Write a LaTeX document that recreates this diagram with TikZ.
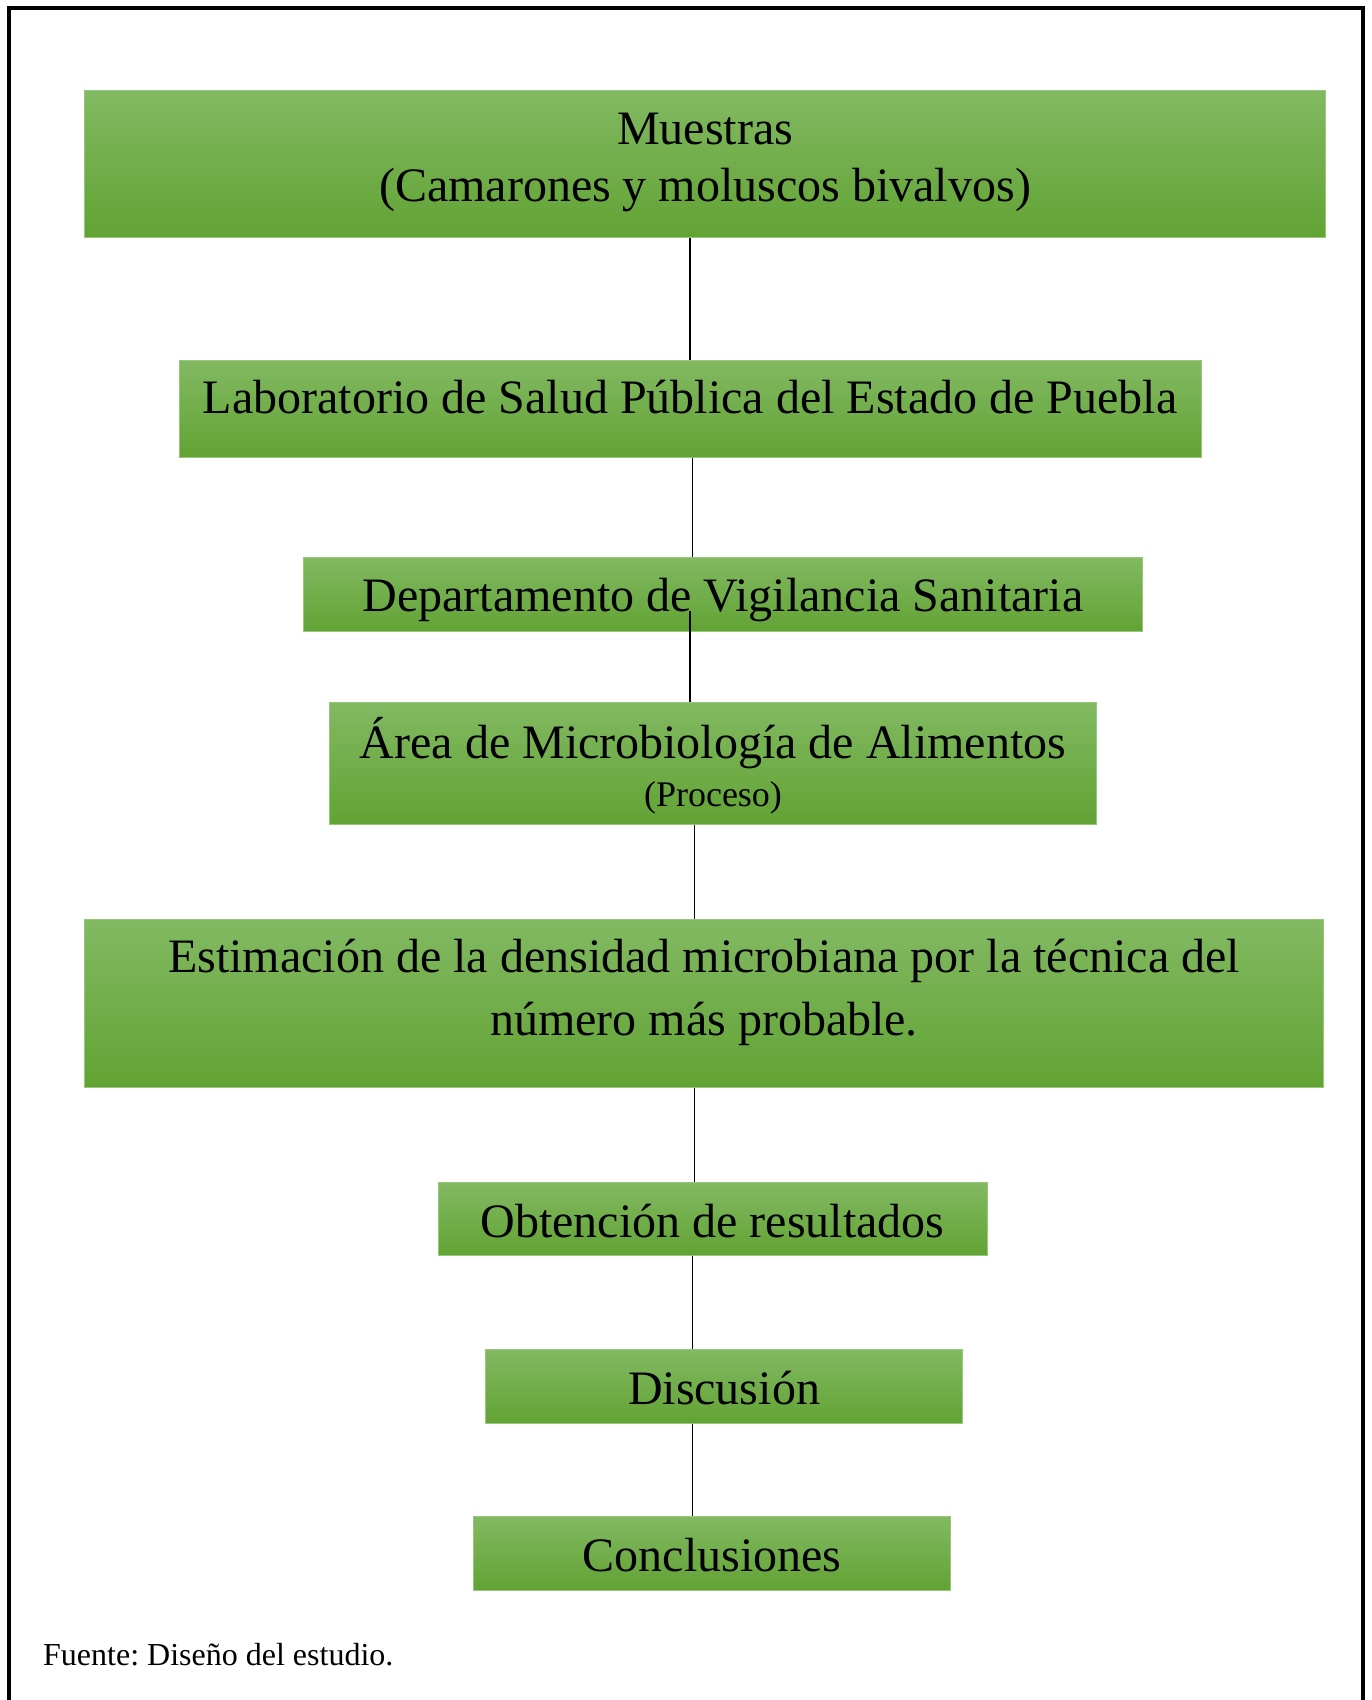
\documentclass[tikz,border=0pt]{standalone}
\usepackage{fontspec}
\setmainfont{Liberation Serif}
\usepackage{tikz}
\usetikzlibrary{positioning}
\definecolor{boxtop}{RGB}{130,185,98}
\definecolor{boxbot}{RGB}{98,163,52}
\definecolor{boxedge}{RGB}{150,200,122}
\tikzstyle{stage} = [rectangle, draw=boxedge, line width=1pt, top color=boxtop, bottom color=boxbot, inner sep=0pt, font=\fontsize{48}{55}\selectfont]
\tikzstyle{link} = [line width=1.6pt, black]
\frenchspacing

\begin{document}
\begin{tikzpicture}[x=1pt,y=-1pt]
\useasboundingbox (0,0) rectangle (1371,1700);

%frame
\draw[line width=4pt] (9,1705) -- (9,8) -- (1363,8) -- (1363,1705);

%Muestras
\node[stage, minimum width=1241pt, minimum height=147pt, text height=75pt, text depth=0pt,
	font=\fontsize{48}{56.7}\selectfont] (muestras) at (705,163.5)
	{\begin{tabular}[b]{@{}c@{}}Muestras\\(Camarones y moluscos bivalvos)\end{tabular}};

%Laboratorio
\node[stage, minimum width=1022pt, minimum height=97pt, text height=40.4pt, text depth=29.6pt] (lab) at (690,408.5)
	{Laboratorio de Salud Pública del Estado de Puebla};

%Departamento
\node[stage, minimum width=839pt, minimum height=74pt, text height=52.5pt, text depth=17.5pt] (depto) at (723,594)
	{Departamento de Vigilancia Sanitaria};

%Area
\node[stage, minimum width=767pt, minimum height=122pt, text height=87.2pt, text depth=0pt,
	font=\fontsize{48}{48.1}\selectfont] (area) at (713,763)
	{\begin{tabular}[b]{@{}c@{}}Área de Microbiología de Alimentos\\{\fontsize{36}{38}\selectfont (Proceso)}\end{tabular}};

%Estimacion
\node[stage, minimum width=1239pt, minimum height=168pt, text height=67.8pt, text depth=2.2pt,
	font=\fontsize{48}{63}\selectfont] (estim) at (704,1003)
	{\begin{tabular}[b]{@{}c@{}}Estimación de la densidad microbiana por la técnica del\\número más probable.\end{tabular}};

%Resultados
\node[stage, minimum width=549pt, minimum height=73pt, text height=54pt, text depth=16pt] (obt) at (712.5,1218.5)
	{Obtención de resultados};

%Discusion
\node[stage, minimum width=477pt, minimum height=74pt, text height=53pt, text depth=17pt] (disc) at (724,1386)
	{Discusión};

%Conclusiones
\node[stage, minimum width=477pt, minimum height=74pt, text height=53pt, text depth=17pt] (concl) at (712,1553)
	{Conclusiones};

%Fuente
\node[anchor=west, inner sep=0pt, font=\fontsize{32}{36}\selectfont] (fuente) at (43,1655)
	{Fuente: Diseño del estudio.};

%links
\foreach \a/\b/\x in {muestras/lab/690, lab/depto/692.5, area/estim/694.5, estim/obt/694.5, obt/disc/692.5, disc/concl/692.5}
	\draw[link] (\a.south -| \x,0) -- (\b.north -| \x,0);
\draw[link] ([yshift=21pt]depto.south -| 690,0) -- (area.north -| 690,0);

\end{tikzpicture}
\end{document}
